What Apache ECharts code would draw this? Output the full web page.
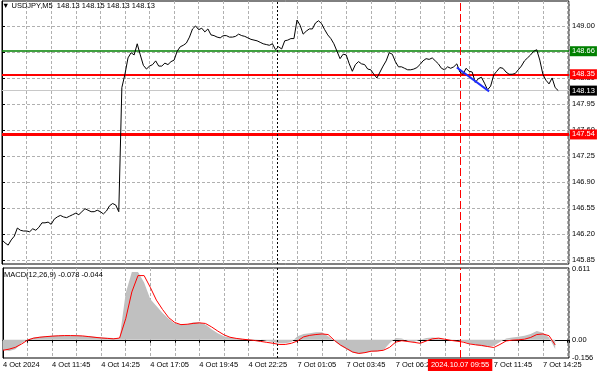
<!DOCTYPE html>
<html><head><meta charset="utf-8">
<script src="https://cdn.jsdelivr.net/npm/echarts@6/dist/echarts.min.js"></script>
<style>html,body{margin:0;padding:0;background:#fff}#c{width:600px;height:375px}</style>
</head><body><div id="c"></div>
<script>
// ---- data ----
// close prices, one value every 2 M5 bars (10 min) starting 4 Oct 09:05
const closePrices = [
146.12,146.08,146.05,146.12,146.17,146.28,146.25,146.24,146.24,146.23,
146.27,146.25,146.29,146.35,146.35,146.36,146.33,146.40,146.43,146.45,
146.43,146.42,146.44,146.46,146.48,146.46,146.50,146.54,146.52,146.50,
146.50,146.52,146.50,146.47,146.51,146.58,146.61,146.59,146.50,
148.17,148.35,148.57,148.64,148.61,148.76,148.61,148.47,148.42,148.46,
148.48,148.53,148.46,148.46,148.50,148.48,148.52,148.54,148.66,148.72,
148.74,148.77,148.85,148.96,149.00,148.95,148.97,148.92,148.96,148.88,
148.87,148.85,148.84,148.87,148.87,148.85,148.85,148.86,148.89,148.87,
148.86,148.84,148.82,148.81,148.80,148.78,148.76,148.75,148.74,148.76,
148.68,148.72,148.69,148.80,148.81,148.83,148.83,149.08,149.01,148.89,
148.93,148.96,148.96,149.04,149.07,149.03,148.95,148.88,148.83,148.76,
148.66,148.56,148.62,148.61,148.49,148.39,148.48,148.52,148.49,148.48,
148.42,148.41,148.35,148.30,148.38,148.46,148.53,148.64,148.62,148.52,
148.45,148.45,148.43,148.41,148.41,148.42,148.44,148.48,148.53,148.56,
148.55,148.57,148.53,148.49,148.43,148.41,148.45,148.43,148.45,148.49,
148.38,148.35,148.43,148.39,148.38,148.24,148.29,148.31,148.23,148.14,
148.19,148.34,148.39,148.44,148.43,148.38,148.35,148.35,148.36,148.41,
148.46,148.53,148.57,148.61,148.66,148.68,148.54,148.35,148.27,148.22,
148.30,148.17,148.13
];
const priceStep = 2;   // bars per price value
// MACD(12,26,9), one value every 4 bars
const macdHist = [
-0.085,-0.095,-0.08,-0.03,0.005,0.02,0.025,0.03,0.035,0.036,
0.038,0.038,0.036,0.033,0.03,0.025,0.02,0.018,0.015,0.012,
0.40,0.58,0.58,0.49,0.35,0.29,0.23,0.18,0.14,0.13,
0.13,0.15,0.15,0.13,0.09,0.055,0.03,0.02,0.012,0.008,
0.005,0.005,0.0,-0.01,-0.02,-0.03,-0.03,-0.02,0.03,0.05,
0.055,0.065,0.065,0.03,-0.01,-0.05,-0.08,-0.11,-0.12,-0.11,
-0.10,-0.10,-0.09,-0.03,0.015,0.01,-0.01,-0.02,0.0,0.015,
0.02,0.015,0.003,-0.005,0.0,-0.015,-0.03,-0.045,-0.055,-0.06,
-0.05,-0.02,0.01,0.02,0.025,0.035,0.05,0.075,0.06,0.02,
-0.078
];
const macdSignal = [
-0.09,-0.08,-0.065,-0.037,-0.003,0.014,0.022,0.027,0.031,0.034,
0.036,0.036,0.035,0.033,0.027,0.021,0.016,0.012,0.008,0.015,
0.18,0.41,0.55,0.55,0.45,0.34,0.26,0.19,0.148,0.13,
0.133,0.14,0.145,0.14,0.11,0.075,0.043,0.022,0.012,0.005,
0.0,-0.006,-0.014,-0.022,-0.03,-0.04,-0.04,-0.03,-0.01,0.025,
0.038,0.045,0.05,0.045,-0.005,-0.045,-0.075,-0.105,-0.117,-0.11,
-0.098,-0.096,-0.09,-0.065,-0.02,-0.008,-0.015,-0.022,-0.03,-0.01,
0.008,0.014,0.005,-0.005,-0.012,-0.02,-0.035,-0.043,-0.048,-0.058,
-0.066,-0.04,-0.01,-0.003,0.0,0.005,0.02,0.045,0.05,0.035,
-0.044
];
const macdStep = 4;
const timeTicks = ["4 Oct 2024","4 Oct 11:45","4 Oct 14:25","4 Oct 17:05","4 Oct 19:45","4 Oct 22:25",
                   "7 Oct 01:05","7 Oct 03:45","7 Oct 06:25","7 Oct 09:05","7 Oct 11:45","7 Oct 14:25"];
const barsPerTimeTick = 32;
const totalBars = 369;
const priceTicks = [145.85,146.20,146.55,146.90,147.25,147.60,147.95,148.30,148.65,149.00];
const macdTicks = [-0.156, 0, 0.611];
const resistanceLevel = 148.66;
const entryLevel = 148.35;
const supportLevel = 147.54;
const bidPrice = 148.13;
const trendBars = [296, 317];
const trendPrices = [148.44, 148.12];
const markerBar = 298;             // 2024.10.07 09:55
const markerText = "2024.10.07 09:55";
const daySeparatorBar = 179;       // 7 Oct 00:00
const titleText = "\u25BC USDJPY,M5  148.13 148.15 148.13 148.13";
const macdTitle = "MACD(12,26,9) -0.078 -0.044";

// ---- chart ----
const FONT = "Liberation Sans";
const FS = 7.5;
const gridLine = {show:true, lineStyle:{color:'#b0b0b0', type:[3,2], width:1}};
const chart = echarts.init(document.getElementById('c'), null, {renderer:'canvas'});
const option = {
  animation:false,
  backgroundColor:'#fff',
  textStyle:{fontFamily:FONT},
  title:[
    {text:titleText, left:2, top:2, padding:0, textStyle:{fontSize:FS, fontWeight:'normal', color:'#000', fontFamily:FONT}},
    {text:macdTitle, left:4, top:271, padding:0, textStyle:{fontSize:FS, fontWeight:'normal', color:'#000', fontFamily:FONT}}
  ],
  grid:[
    {left:2, right:31, top:1, height:263, show:true, borderColor:'#000', borderWidth:1},
    {left:2, right:31, top:268, height:90, show:true, borderColor:'#000', borderWidth:1}
  ],
  xAxis:[
    {type:'value', gridIndex:0, min:0, max:totalBars, interval:16,
     axisLine:{show:false}, axisTick:{show:false}, axisLabel:{show:false}, splitLine:gridLine},
    {type:'value', gridIndex:1, min:0, max:totalBars, interval:16,
     axisLine:{show:true, lineStyle:{color:'#000'}},
     axisTick:{show:true, length:3, lineStyle:{color:'#000'}},
     axisLabel:{show:true, customValues:timeTicks.map((_,k)=>k*barsPerTimeTick),
       formatter:v=>timeTicks[Math.round(v/barsPerTimeTick)] || '',
       align:'left', margin:3, fontSize:FS, color:'#000', fontFamily:FONT},
     splitLine:gridLine}
  ],
  yAxis:[
    {type:'value', gridIndex:0, position:'right', min:145.796, max:149.336,
     axisLine:{show:true, lineStyle:{color:'#000'}},
     axisTick:{show:true, length:3, customValues:priceTicks, lineStyle:{color:'#000'}},
     axisLabel:{customValues:priceTicks, formatter:v=>v.toFixed(2), margin:3, fontSize:FS, color:'#000', fontFamily:FONT},
     splitLine:gridLine},
    {type:'value', gridIndex:1, position:'right', min:-0.156, max:0.615,
     axisLine:{show:true, lineStyle:{color:'#000'}},
     axisTick:{show:true, length:3, customValues:[0], lineStyle:{color:'#000'}},
     axisLabel:{customValues:macdTicks, formatter:v=>v===0?'0.00':String(v), margin:3, fontSize:FS, color:'#000', fontFamily:FONT},
     splitLine:gridLine}
  ],
  series:[
    {type:'line', xAxisIndex:0, yAxisIndex:0, showSymbol:false, symbol:'none',
     data:closePrices.map((p,i)=>[i*priceStep,p]),
     lineStyle:{color:'#000', width:1}, z:5,
     markLine:{symbol:'none', silent:true, animation:false,
       data:[
         {yAxis:bidPrice, lineStyle:{color:'#c8c8c8', width:1, type:'solid'},
          label:{show:true, position:'end', distance:1, formatter:bidPrice.toFixed(2), color:'#fff', backgroundColor:'#000', padding:[1,2,1,2], fontSize:FS, fontFamily:FONT}},
         {yAxis:resistanceLevel, lineStyle:{color:'#008000', width:1.5, type:'solid'},
          label:{show:true, position:'end', distance:1, formatter:resistanceLevel.toFixed(2), color:'#fff', backgroundColor:'#008000', padding:[1,2,1,2], fontSize:FS, fontFamily:FONT}},
         {yAxis:entryLevel, lineStyle:{color:'#ff0000', width:2, type:'solid'},
          label:{show:true, position:'end', distance:1, formatter:entryLevel.toFixed(2), color:'#fff', backgroundColor:'#ff0000', padding:[1,2,1,2], fontSize:FS, fontFamily:FONT}},
         {yAxis:supportLevel, lineStyle:{color:'#ff0000', width:3, type:'solid'},
          label:{show:true, position:'end', distance:1, formatter:supportLevel.toFixed(2), color:'#fff', backgroundColor:'#ff0000', padding:[1,2,1,2], fontSize:FS, fontFamily:FONT}},
         {xAxis:daySeparatorBar, lineStyle:{color:'#000', width:1, type:[2,2]}, label:{show:false}},
         {xAxis:markerBar, lineStyle:{color:'#ff0000', width:1, type:[8,3]}, label:{show:false}}
       ]}
    },
    {type:'line', xAxisIndex:0, yAxisIndex:0, showSymbol:false, symbol:'none', z:6,
     data:trendBars.map((b,i)=>[b,trendPrices[i]]),
     lineStyle:{color:'#1f2fff', width:2}},
    {type:'line', xAxisIndex:1, yAxisIndex:1, showSymbol:false, symbol:'none', z:3,
     data:macdHist.map((v,i)=>[i*macdStep,v]),
     lineStyle:{width:0, color:'#c0c0c0'}, areaStyle:{color:'#c0c0c0', opacity:1},
     markLine:{symbol:'none', silent:true, animation:false,
       data:[
         {xAxis:daySeparatorBar, lineStyle:{color:'#000', width:1, type:[2,2]}, label:{show:false}},
         {xAxis:markerBar, lineStyle:{color:'#ff0000', width:1, type:[8,3]},
          label:{show:true, position:'start', distance:1, formatter:markerText, color:'#fff', backgroundColor:'#ff0000', padding:[2,3,2,3], fontSize:FS, fontFamily:FONT}}
       ]}
    },
    {type:'line', xAxisIndex:1, yAxisIndex:1, showSymbol:false, symbol:'none', z:4,
     data:macdSignal.map((v,i)=>[i*macdStep,v]),
     lineStyle:{color:'#ff0000', width:1}}
  ]
};
chart.setOption(option);
</script>
</body></html>
